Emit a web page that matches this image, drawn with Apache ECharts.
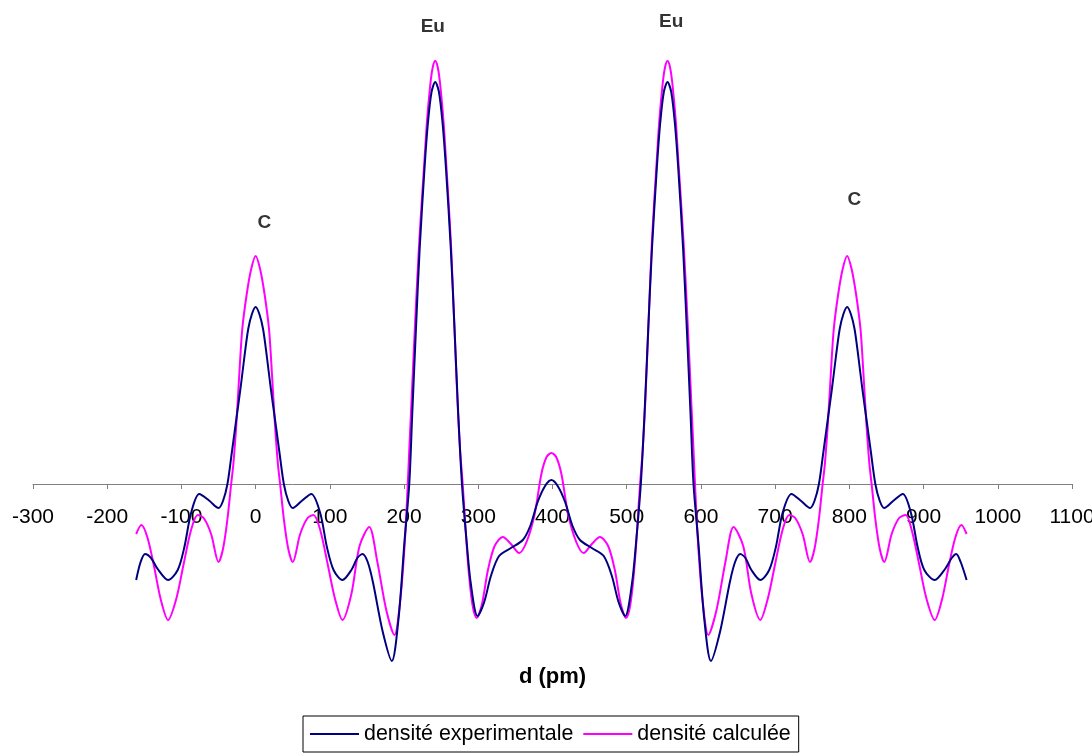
<!DOCTYPE html>
<html>
<head>
<meta charset="utf-8">
<script src="https://cdn.jsdelivr.net/npm/echarts@6/dist/echarts.min.js"></script>
<style>
html,body{margin:0;padding:0;background:#fff;}
#chart{width:1092px;height:755px;}
</style>
</head>
<body>
<div id="chart"></div>
<script>
// ---- data ----
const seriesNames = ['densité experimentale', 'densité calculée'];
const xTickMin = -300, xTickMax = 1100, xTickStep = 100;

const expX = [-161,-155,-149,-141,-132,-118,-105,-96,-87,-76,-62,-50,-44,-38,-32,-26,-20,-15,-10,-5,0,5,10,15,20,26,32,38,44,50,62,75,87,96,105,117,129,137,144,151,158,171,183.5,192.5,200.5,207,211,216,221,227.5,232,237,242,247,252,256.5,263,268,273,278,284,290,299,308,317,328,344,360,370,380,390,398.5,407,417,427,437,453,469,480,489,498,507,513,519,524,529,534,540.5,545,550,555,560,565,569.5,576,581,586,590,596.5,604.5,613.5,626,639,646,653,660,668,680,692,701,710,722,735,747,753,759,765,771,777,782,787,792,797,802,807,812,817,823,829,835,841,847,859,872,883,892,901,915,929,938,944,950,958];
const expY = [-0.96,-0.78,-0.70,-0.74,-0.85,-0.96,-0.86,-0.63,-0.29,-0.10,-0.17,-0.24,-0.17,0.0,0.32,0.65,0.98,1.28,1.55,1.70,1.77,1.70,1.55,1.28,0.98,0.65,0.32,0.0,-0.17,-0.24,-0.17,-0.10,-0.29,-0.63,-0.86,-0.96,-0.86,-0.74,-0.70,-0.78,-0.98,-1.47,-1.77,-1.35,-0.58,0.0,0.7,1.55,2.35,3.15,3.60,3.92,4.02,3.92,3.60,3.15,2.35,1.55,0.7,0.0,-0.55,-1.0,-1.32,-1.18,-0.92,-0.72,-0.64,-0.56,-0.42,-0.18,-0.02,0.04,-0.02,-0.18,-0.42,-0.56,-0.64,-0.72,-0.92,-1.18,-1.32,-1.0,-0.55,0.0,0.7,1.55,2.35,3.15,3.60,3.92,4.02,3.92,3.60,3.15,2.35,1.55,0.7,0.0,-0.58,-1.35,-1.77,-1.47,-0.98,-0.78,-0.70,-0.74,-0.86,-0.96,-0.86,-0.63,-0.29,-0.10,-0.17,-0.24,-0.17,0.0,0.32,0.65,0.98,1.28,1.55,1.70,1.77,1.70,1.55,1.28,0.98,0.65,0.32,0.0,-0.17,-0.24,-0.17,-0.10,-0.29,-0.63,-0.86,-0.96,-0.85,-0.74,-0.70,-0.78,-0.96];

const calcX = [-161,-154,-146,-137,-128,-118,-107,-97,-87,-78,-70,-60,-50,-44,-38,-33,-30,-26,-22,-18,-12,-6,0,6,12,18,22,26,30,33,38,44,50,60,70,78,87,97,107,117,129,140,153,164,176,187,195,201,205,207,210,215,220.5,227.5,231,236,239,242,245,248,253,256.5,263,267.5,272,275.5,279,286,292,298,305,313,322,333,344,355,365,376,385,392,398.5,405,412,421,432,442,453,464,475,484,492,499,505,511,518,521.5,525,529.5,534,540.5,544,549,552,555,558,561,566,569.5,576.5,582,587,590,592,596,602,610,621,633,644,657,668,680,690,700,710,719,727,737,747,753,759,764,767,771,775,779,785,791,797,803,809,815,819,823,827,830,835,841,847,857,867,876,884,894,904,915,925,934,943,951,958];
const calcY = [-0.50,-0.41,-0.53,-0.82,-1.15,-1.36,-1.15,-0.80,-0.46,-0.31,-0.34,-0.50,-0.78,-0.65,-0.35,0.0,0.2,0.6,1.1,1.55,1.90,2.15,2.28,2.15,1.90,1.55,1.1,0.6,0.2,0.0,-0.35,-0.65,-0.78,-0.50,-0.34,-0.31,-0.46,-0.80,-1.15,-1.36,-1.10,-0.62,-0.43,-0.78,-1.26,-1.51,-1.15,-0.58,0.0,0.34,0.82,1.63,2.43,3.24,3.64,4.04,4.18,4.23,4.18,4.04,3.64,3.24,2.43,1.63,0.82,0.34,0.0,-0.78,-1.20,-1.34,-1.20,-0.86,-0.62,-0.53,-0.60,-0.69,-0.58,-0.30,0.10,0.27,0.31,0.27,0.10,-0.30,-0.58,-0.69,-0.60,-0.53,-0.62,-0.86,-1.20,-1.34,-1.20,-0.78,0.0,0.34,0.82,1.63,2.43,3.24,3.64,4.04,4.18,4.23,4.18,4.04,3.64,3.24,2.43,1.63,0.82,0.34,0.0,-0.58,-1.15,-1.51,-1.26,-0.78,-0.43,-0.62,-1.10,-1.36,-1.15,-0.80,-0.46,-0.31,-0.34,-0.50,-0.78,-0.65,-0.35,0.0,0.2,0.6,1.1,1.55,1.90,2.15,2.28,2.15,1.90,1.55,1.1,0.6,0.2,0.0,-0.35,-0.65,-0.78,-0.50,-0.34,-0.31,-0.46,-0.80,-1.15,-1.36,-1.15,-0.82,-0.53,-0.41,-0.50];

const peakLabels = ['C', 'Eu', 'Eu', 'C'];
const peakLabelX = [11.7, 238.7, 559.8, 806.9];
const peakLabelY = [2.61, 4.57, 4.62, 2.84];

// ---- build ----
const FONT = "'Liberation Sans', Arial, sans-serif";
const Y_MIN = -2, Y_MAX = 4.8;
const zip = (xs, ys) => xs.map((x, i) => [x, ys[i]]);
const labelData = peakLabelX.map((x, i) => [x, peakLabelY[i], peakLabels[i]]);

const chart = echarts.init(document.getElementById('chart'), null, {renderer: 'canvas'});
chart.setOption({
  animation: false,
  backgroundColor: '#ffffff',
  textStyle: {fontFamily: FONT},
  grid: {left: 33, right: 20, top: 4, bottom: 71, containLabel: false, outerBoundsMode: 'none'},
  legend: {
    data: seriesNames,
    left: 303, top: 716,
    orient: 'horizontal',
    icon: 'rect',
    itemWidth: 49, itemHeight: 2, itemGap: 10,
    padding: [7, 8, 7, 7],
    borderColor: '#000', borderWidth: 1,
    textStyle: {fontSize: 21.4, color: '#000', fontFamily: FONT, lineHeight: 22}
  },
  xAxis: {
    type: 'value',
    min: xTickMin, max: xTickMax, interval: xTickStep,
    offset: -200,
    splitLine: {show: false},
    axisLine: {onZero: false, lineStyle: {color: '#808080', width: 1}},
    axisTick: {show: true, length: 5, lineStyle: {color: '#808080'}},
    axisLabel: {fontSize: 21, color: '#000', margin: 23, fontFamily: FONT,
      formatter: v => String(v)},
    name: 'd (pm)',
    nameLocation: 'middle',
    nameGap: 182,
    nameTextStyle: {fontSize: 22, fontWeight: 'bold', color: '#000', fontFamily: FONT}
  },
  yAxis: {
    type: 'value', min: Y_MIN, max: Y_MAX, show: false,
    splitLine: {show: false}
  },
  series: [
    {
      name: seriesNames[0], type: 'line', data: zip(expX, expY),
      symbol: 'none', smooth: 0.3,
      lineStyle: {color: '#000080', width: 2},
      itemStyle: {color: '#000080'}, z: 3
    },
    {
      name: seriesNames[1], type: 'line', data: zip(calcX, calcY),
      symbol: 'none', smooth: 0.3,
      lineStyle: {color: '#FF00FF', width: 2},
      itemStyle: {color: '#FF00FF'}, z: 2
    },
    {
      name: 'labels', type: 'scatter', data: labelData,
      symbolSize: 0, silent: true, clip: false,
      label: {show: true, position: 'inside', formatter: p => p.data[2],
        fontSize: 19, fontWeight: 'bold', color: '#000', textBorderWidth: 0,
        fontFamily: FONT}
    }
  ]
});
</script>
</body>
</html>
